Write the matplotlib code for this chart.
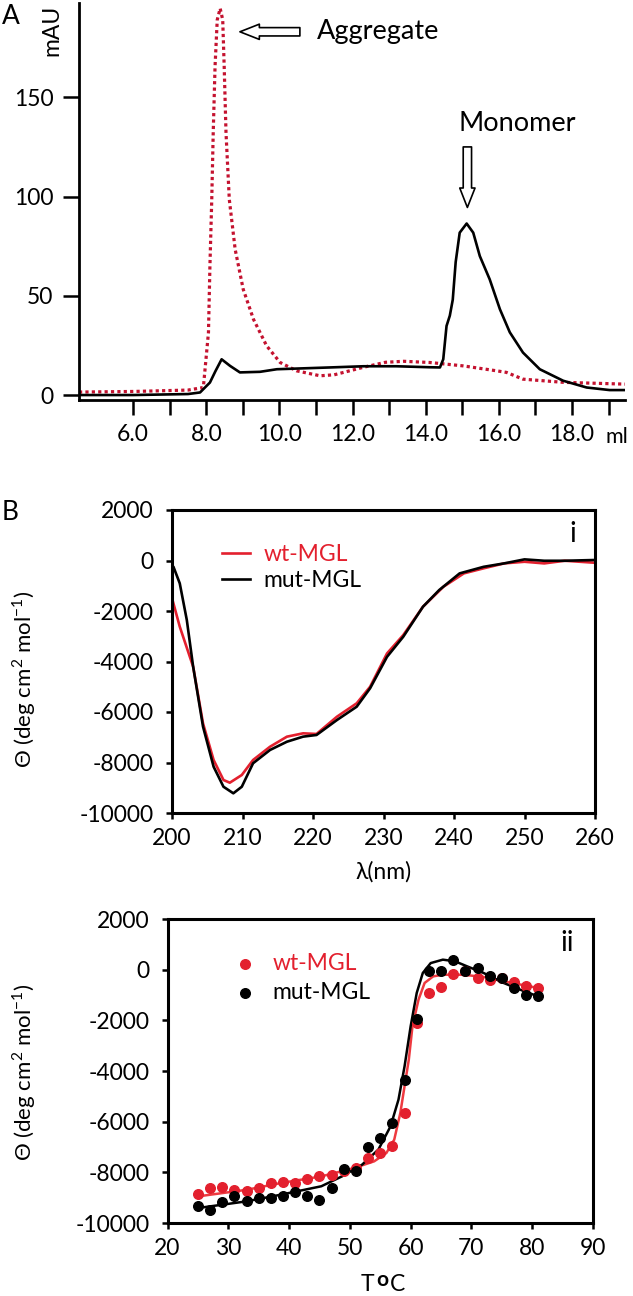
import matplotlib
matplotlib.use("Agg")
import matplotlib.pyplot as plt

plt.rcParams['font.family'] = ['Lato', 'DejaVu Sans']
plt.rcParams['mathtext.fontset'] = 'custom'
plt.rcParams['mathtext.rm'] = 'Lato'
plt.rcParams['mathtext.bf'] = 'Lato:bold'
plt.rcParams['axes.unicode_minus'] = False

# ---- panel A: size exclusion chromatogram ----
sec_vol_mut = [4.52, 6.0, 7.5, 7.83, 8.1, 8.25, 8.42, 8.65, 8.92, 9.47, 9.93, 11.38, 12.3, 13.2,
               14.11, 14.39, 14.48, 14.57, 14.66, 14.74, 14.82, 14.93, 15.12, 15.3, 15.48, 15.75,
               16.03, 16.3, 16.66, 17.12, 17.76, 18.4, 19.03, 19.45]
sec_abs_mut = [0, 0, 0.5, 1.3, 6.3, 12, 18, 14.7, 11.4, 11.7, 13, 13.9, 14.5, 14.5,
               14, 13.9, 18, 34.8, 40, 48, 67, 81.8, 86.4, 81.8, 70, 58.3,
               43.2, 31.6, 21.4, 13, 7.2, 3.8, 2.5, 2.5]
sec_vol_agg = [4.52, 6.0, 7.5, 7.92, 8.06, 8.10, 8.15, 8.19, 8.24, 8.30, 8.38, 8.45, 8.49, 8.54,
               8.63, 8.79, 9.01, 9.29, 9.65, 10.02, 10.47, 11.11, 11.5, 12.3, 12.9, 13.4, 14.11,
               15.02, 15.94, 16.21, 16.66, 17.76, 19.45]
sec_abs_agg = [1.5, 1.8, 2.5, 3.8, 31.5, 65, 98.5, 132, 165.5, 189, 194.8, 189, 165.5, 132,
               98.5, 73.4, 53.3, 38.2, 24.8, 16.4, 12.2, 9.7, 10.2, 14, 16.5, 17, 16.4,
               14.7, 12.2, 11.4, 8, 6.4, 5.5]

# ---- panel B(i): far-UV CD spectra ----
cd_wl_wt = [200, 201.1, 203.0, 204.4, 205.9, 207.3, 208.2, 209.9, 211.5, 213.9, 216.3, 218.6,
            220.5, 223.4, 226.2, 228.1, 230.5, 232.8, 235.6, 238.5, 241.4, 244.2, 247.1, 250,
            252.8, 255.7, 260]
cd_wt = [-1490, -2620, -4206, -6450, -7900, -8693, -8800, -8495, -7900, -7376, -6977, -6844,
         -6870, -6185, -5655, -5000, -3680, -2955, -1830, -1040, -510, -310, -115, -50,
         -115, -10, -90]
cd_wl_mut = [200, 200.2, 201.1, 202.1, 203.0, 204.4, 205.9, 207.3, 208.7, 209.9, 211.5, 213.9,
             216.3, 218.6, 220.5, 223.4, 226.2, 228.1, 230.5, 232.8, 235.6, 237.9, 240.8, 244.2,
             247.1, 250, 252.8, 255.7, 260]
cd_mut = [-400, -245, -905, -2356, -4206, -6580, -8166, -8960, -9220, -8960, -8030, -7505,
          -7177, -6976, -6910, -6317, -5790, -5060, -3815, -3020, -1830, -1170, -510, -250,
          -115, 45, -10, -10, 20]

# ---- panel B(ii): thermal melt at fixed wavelength ----
temp_pts = [25, 27, 29, 31, 33, 35, 37, 39, 41, 43, 45, 47, 49, 51, 53, 55, 57, 59, 61, 63, 65,
            67, 69, 71, 73, 75, 77, 79, 81]
melt_wt = [-8855, -8620, -8580, -8685, -8750, -8620, -8420, -8395, -8420, -8265, -8160, -8100,
           -7960, -7830, -7435, -7240, -6950, -5660, -2105, -920, -685, -160, -70, -330, -420,
           -330, -500, -650, -725]
melt_mut = [-9340, -9500, -9170, -8950, -9145, -9010, -9010, -8920, -8775, -8950, -9080, -8620,
            -7870, -7960, -7000, -6645, -6050, -4370, -1935, -40, -40, 395, -40, 65, -265, -340,
            -725, -990, -1055]
fit_t_wt = [25, 33, 38.7, 45.3, 50.7, 54, 56, 57.3, 58.3, 59, 59.7, 60.3, 61.3, 62.3, 63.7, 65.3,
            68.7, 72, 75.3, 81]
fit_wt = [-8950, -8690, -8420, -8160, -7830, -7565, -7240, -6710, -5660, -4600, -3550, -2235,
          -1180, -525, -265, -200, -200, -290, -460, -725]
fit_t_mut = [25, 33, 38.7, 45.3, 48.7, 52, 54.7, 56.7, 58, 59, 60, 61, 62, 63.3, 65.3, 67.3, 69.3,
             72, 75.3, 78.7, 81]
fit_mut = [-9410, -9145, -8880, -8550, -8160, -7700, -7100, -6180, -5130, -3815, -2235, -920,
           -130, 260, 395, 330, 130, -130, -525, -855, -1055]

red_b = '#e3202e'
red_a = '#c4122f'
fs = 16.5

W, H = 633, 1296
fig = plt.figure(figsize=(W / 100, H / 100), dpi=100)


def frac(left, top, right, bottom):
    return [left / W, 1 - bottom / H, (right - left) / W, (bottom - top) / H]


# ================= Panel A =================
ax = fig.add_axes(frac(79, 3, 625, 400))
ax.plot(sec_vol_agg, sec_abs_agg, color=red_a, lw=2.3, ls=(0, (1, 1)))
ax.plot(sec_vol_mut, sec_abs_mut, color='black', lw=1.9)
ax.set_xlim(4.52, 19.45)
ax.set_ylim(-2.5, 197.5)
for s in ['top', 'right']:
    ax.spines[s].set_visible(False)
for s in ['left', 'bottom']:
    ax.spines[s].set_linewidth(2.0)
ax.set_yticks([0, 50, 100, 150])
ax.set_xticks([6, 8, 10, 12, 14, 16, 18])
ax.set_xticklabels(['6.0', '8.0', '10.0', '12.0', '14.0', '16.0', '18.0'])
ax.set_xticks([7, 9, 11, 13, 15, 17, 19], minor=True)
ax.tick_params(axis='y', length=11.5, width=1.8, pad=7, labelsize=fs)
ax.tick_params(axis='x', which='both', length=11, width=1.8, pad=6, labelsize=fs)
ax.text(18.93, -0.093, 'ml', transform=ax.get_xaxis_transform(), fontsize=15.5,
        ha='left', va='center', clip_on=False)
ax.text(-0.05, 0.93, 'mAU', transform=ax.transAxes, rotation=90, fontsize=fs,
        ha='center', va='center')

arrow_style = 'simple,head_length=0.7,head_width=0.55,tail_width=0.3'
ax.annotate('', xy=(8.92, 183), xytext=(10.56, 183),
            arrowprops=dict(arrowstyle=arrow_style, fc='white', ec='black', lw=1.2,
                            shrinkA=0, shrinkB=0, mutation_scale=20))
ax.text(11.02, 183, 'Aggregate', fontsize=19.5, ha='left', va='center')
ax.annotate('', xy=(15.14, 94.5), xytext=(15.14, 125),
            arrowprops=dict(arrowstyle=arrow_style, fc='white', ec='black', lw=1.2,
                            shrinkA=0, shrinkB=0, mutation_scale=20))
ax.text(14.9, 137, 'Monomer', fontsize=19.5, ha='left', va='center')

fig.text(2 / W, 1 - 17 / H, 'A', fontsize=19, ha='left', va='center')
fig.text(2 / W, 1 - 512 / H, 'B', fontsize=19, ha='left', va='center')

ylab = r'Θ (deg cm$^{\mathrm{2}}$ mol$^{\mathrm{-1}}$)'


def style_cd_axes(a):
    for s in a.spines.values():
        s.set_linewidth(2.2)
    a.set_ylim(-10000, 2000)
    a.set_yticks(range(-10000, 2001, 2000))
    a.tick_params(axis='both', direction='out', length=4, width=1.8, labelsize=fs)
    a.tick_params(axis='y', pad=9)
    a.tick_params(axis='x', pad=7)
    a.tick_params(top=False, right=False)


# ================= Panel B(i) =================
ax1 = fig.add_axes(frac(172, 510, 595, 813))
ax1.plot(cd_wl_wt, cd_wt, color=red_b, lw=1.9, label='wt-MGL')
ax1.plot(cd_wl_mut, cd_mut, color='black', lw=1.9, label='mut-MGL')
ax1.set_xlim(200, 260)
ax1.set_xticks(range(200, 261, 10))
style_cd_axes(ax1)
leg = ax1.legend(loc='upper left', bbox_to_anchor=(0.07, 0.955), frameon=False, fontsize=fs,
                 handlelength=1.2, handletextpad=0.6, labelspacing=0.2)
leg.get_texts()[0].set_color(red_b)
ax1.text(0.948, 0.92, 'i', transform=ax1.transAxes, fontsize=20, ha='center', va='center')
ax1.set_xlabel('λ(nm)', fontsize=fs)
ax1.xaxis.set_label_coords(0.5, -0.16)
ax1.set_ylabel(ylab, fontsize=16)
ax1.yaxis.set_label_coords(-0.317, 0.44)

# ================= Panel B(ii) =================
ax2 = fig.add_axes(frac(167.5, 919, 593, 1223))
ax2.plot(fit_t_wt, fit_wt, color='#ee3a40', lw=1.8)
ax2.plot(fit_t_mut, fit_mut, color='black', lw=1.8)
ax2.scatter(temp_pts, melt_wt, s=48, color=red_b, zorder=3, label='wt-MGL')
ax2.scatter(temp_pts, melt_mut, s=48, color='black', zorder=3, label='mut-MGL')
ax2.set_xlim(20, 90)
ax2.set_xticks(range(20, 91, 10))
style_cd_axes(ax2)
leg2 = ax2.legend(loc='upper left', bbox_to_anchor=(0.08, 0.955), frameon=False, fontsize=fs,
                  handletextpad=0.2, labelspacing=0.35, scatterpoints=1)
leg2.get_texts()[0].set_color(red_b)
ax2.text(0.94, 0.92, 'ii', transform=ax2.transAxes, fontsize=20, ha='center', va='center')
ax2.set_ylabel(ylab, fontsize=16)
ax2.yaxis.set_label_coords(-0.304, 0.497)
# x label "T oC" with a raised bold o
ax2.text(0.455, -0.168, 'T', transform=ax2.transAxes, fontsize=fs, ha='left', va='top')
ax2.text(0.491, -0.155, 'o', transform=ax2.transAxes, fontsize=15, fontweight='bold',
         ha='left', va='top')
ax2.text(0.522, -0.168, 'C', transform=ax2.transAxes, fontsize=fs, ha='left', va='top')

fig.savefig('out.png', dpi=100)
plt.close(fig)
